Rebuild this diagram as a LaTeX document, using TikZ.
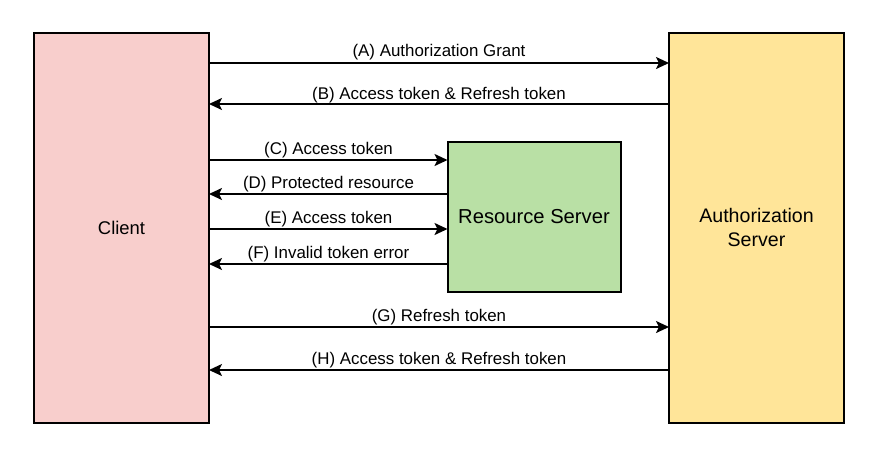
\documentclass[tikz,border=0pt]{standalone}
\usepackage{fontspec}
\setmainfont{Liberation Sans}
\usetikzlibrary{arrows.meta}
\definecolor{clientfill}{HTML}{F8CECC}
\definecolor{resfill}{HTML}{B9E0A5}
\definecolor{authfill}{HTML}{FFE599}
\begin{document}
\begin{tikzpicture}[x=1pt,y=-1pt,
  box/.style={draw=black,line width=2pt,inner sep=0pt,outer sep=0pt,align=center},
  arr/.style={line width=2pt,-{Stealth[length=13pt,width=12pt,inset=3pt]}},
  lbl/.style={font=\fontsize{16.9}{19}\selectfont,anchor=base,inner sep=0pt}]
\useasboundingbox (0,0) rectangle (885,461);
\node[box,fill=clientfill,minimum width=175pt,minimum height=390pt,font=\fontsize{18.4}{22}\selectfont] (client) at (121.5,227.5) {Client};
\node[box,fill=authfill,minimum width=175pt,minimum height=390pt,font=\fontsize{19.6}{24}\selectfont] (auth) at (756.5,227.5) {Authorization\\Server};
\node[box,fill=resfill,minimum width=173pt,minimum height=150pt,font=\fontsize{20.2}{24}\selectfont] (res) at (534,217) {Resource Server};
% A
\draw[arr] (client.east |- 0,63) -- (auth.west |- 0,63);
\node[lbl] (la) at (439,56) {(A) Authorization Grant};
% B
\draw[arr] (auth.west |- 0,104) -- (client.east |- 0,104);
\node[lbl] (lb) at (439,99) {(B) Access token \& Refresh token};
% C
\draw[arr] (client.east |- 0,160) -- (res.west |- 0,160);
\node[lbl] (lc) at (328.5,154) {(C) Access token};
% D
\draw[arr] (res.west |- 0,194) -- (client.east |- 0,194);
\node[lbl] (ld) at (328.5,188.5) {(D) Protected resource};
% E
\draw[arr] (client.east |- 0,229) -- (res.west |- 0,229);
\node[lbl] (le) at (328.5,223) {(E) Access token};
% F
\draw[arr] (res.west |- 0,264) -- (client.east |- 0,264);
\node[lbl] (lf) at (328.5,258) {(F) Invalid token error};
% G
\draw[arr] (client.east |- 0,327) -- (auth.west |- 0,327);
\node[lbl] (lg) at (439,321) {(G) Refresh token};
% H
\draw[arr] (auth.west |- 0,370) -- (client.east |- 0,370);
\node[lbl] (lh) at (439,364) {(H) Access token \& Refresh token};
\end{tikzpicture}
\end{document}
